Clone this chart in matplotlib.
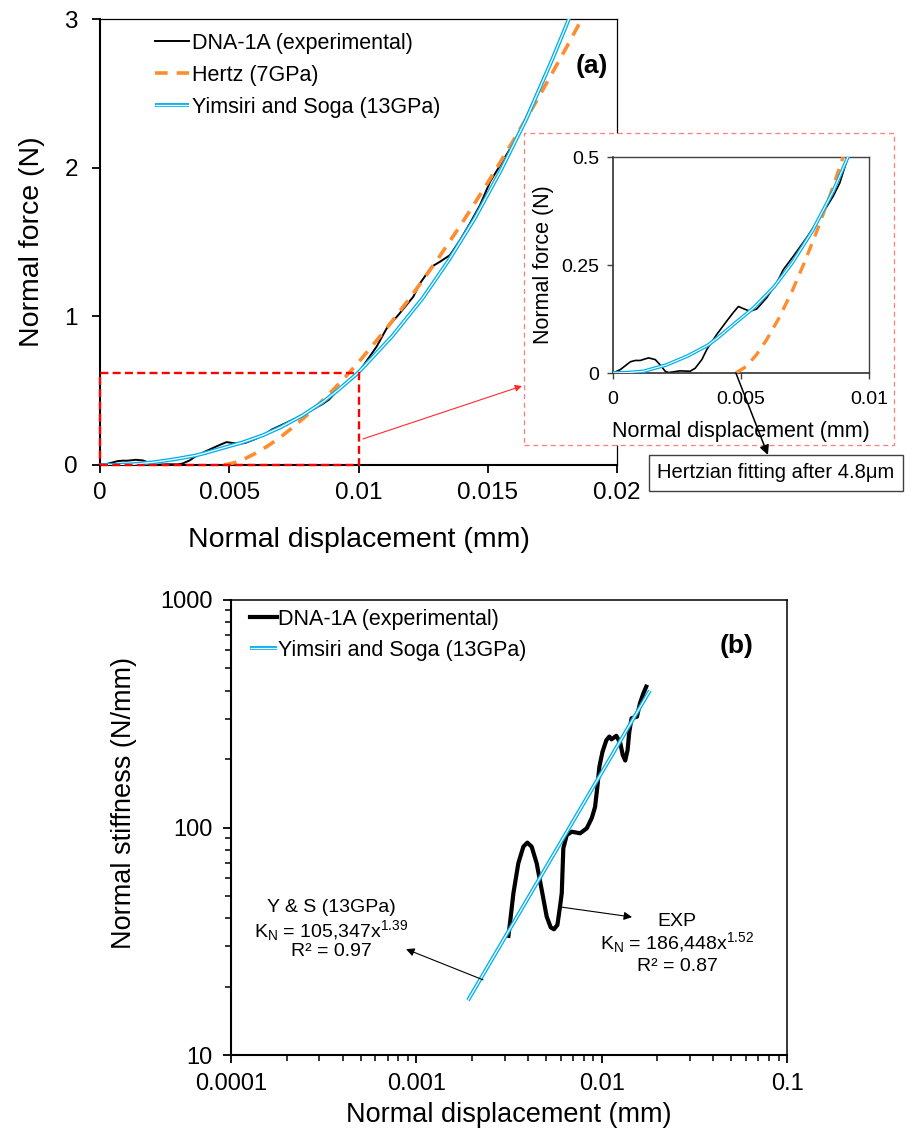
import matplotlib
matplotlib.use("Agg")
import matplotlib.pyplot as plt
import matplotlib.patheffects as pe
from matplotlib.patches import Rectangle
from matplotlib.ticker import FixedLocator, FixedFormatter, LogLocator, NullFormatter

plt.rcParams['font.family'] = ['Liberation Sans', 'DejaVu Sans']
plt.rcParams['mathtext.fontset'] = 'custom'
plt.rcParams['mathtext.rm'] = 'Liberation Sans'
plt.rcParams['mathtext.it'] = 'Liberation Sans:italic'
plt.rcParams['mathtext.bf'] = 'Liberation Sans:bold'

# ---------------- (a) normal force vs displacement ----------------
disp_exp = [0, 0.00029, 0.00068, 0.00087, 0.00106, 0.00139, 0.00165, 0.00184, 0.00204,
            0.00217, 0.00262, 0.00301, 0.00321, 0.00347, 0.00366, 0.00405, 0.00444, 0.0047,
            0.0049, 0.00509, 0.00535, 0.00561, 0.006, 0.00639, 0.00665, 0.00704, 0.00756,
            0.00808, 0.0086, 0.00886, 0.00918, 0.00999, 0.01025, 0.0107, 0.01109, 0.01154,
            0.01212, 0.01238, 0.01283, 0.01315, 0.01354, 0.01393, 0.01431, 0.0147, 0.01509,
            0.0156, 0.01599, 0.01638, 0.01676, 0.01715, 0.01754, 0.01786, 0.01812, 0.0183]
force_exp = [0, 0.008, 0.026, 0.029, 0.029, 0.035, 0.031, 0.019, 0.004,
             0.001, 0.005, 0.004, 0.011, 0.031, 0.054, 0.089, 0.12, 0.14,
             0.154, 0.149, 0.143, 0.148, 0.174, 0.208, 0.239, 0.27, 0.313,
             0.359, 0.409, 0.44, 0.5, 0.617, 0.684, 0.796, 0.919, 1.009,
             1.132, 1.222, 1.334, 1.367, 1.412, 1.513, 1.625, 1.748, 1.905,
             2.051, 2.163, 2.298, 2.443, 2.6, 2.746, 2.88, 2.993, 3.08]

disp_hertz = [0.0048, 0.0052, 0.0056, 0.006, 0.0065, 0.007, 0.0075, 0.008, 0.0085, 0.009,
              0.0095, 0.01, 0.011, 0.012, 0.013, 0.014, 0.015, 0.016, 0.017, 0.018, 0.0187]
force_hertz = [0, 0.015, 0.042, 0.077, 0.129, 0.19, 0.259, 0.334, 0.415, 0.502,
               0.594, 0.691, 0.9, 1.126, 1.368, 1.626, 1.899, 2.185, 2.483, 2.795, 3.02]

disp_ys = [0, 0.0006, 0.0012, 0.0021, 0.0029, 0.0037, 0.0041, 0.0047, 0.0055, 0.0063, 0.007,
           0.0078, 0.0086, 0.0092, 0.01, 0.0113, 0.0125, 0.0135, 0.0145, 0.0155, 0.0165,
           0.0175, 0.018, 0.0185]
force_ys = [0, 0.001, 0.004, 0.019, 0.039, 0.064, 0.082, 0.112, 0.151, 0.2, 0.255,
            0.33, 0.421, 0.503, 0.623, 0.866, 1.126, 1.38, 1.66, 1.98, 2.33,
            2.73, 2.94, 3.16]

a_xticks = [0, 0.005, 0.01, 0.015, 0.02]
a_xticklabels = ['0', '0.005', '0.01', '0.015', '0.02']
a_yticks = [0, 1, 2, 3]
a_yticklabels = ['0', '1', '2', '3']

in_xticks = [0, 0.005, 0.01]
in_xticklabels = ['0', '0.005', '0.01']
in_yticks = [0, 0.25, 0.5]
in_yticklabels = ['0', '0.25', '0.5']

# ---------------- (b) normal stiffness vs displacement ----------------
disp_k_exp = [0.00314, 0.0032, 0.00334, 0.00355, 0.00378, 0.00397, 0.00419, 0.00446,
              0.00475, 0.00505, 0.00531, 0.00553, 0.00577, 0.00596, 0.00609, 0.00621,
              0.00648, 0.0069, 0.00765, 0.00831, 0.00884, 0.00921, 0.00948, 0.00972,
              0.0101, 0.0106, 0.011, 0.0113, 0.012, 0.0126, 0.013, 0.0134, 0.0138,
              0.0141, 0.0145, 0.0155, 0.0161, 0.0168, 0.0174]
stiff_exp = [33.4, 37.9, 51.4, 69.6, 82.4, 85.8, 82.4, 69.6,
             53.1, 40.6, 36.4, 35.7, 37.3, 44.9, 51.4, 81.0,
             92.7, 95.8, 94.3, 99.2, 110, 123, 151, 185,
             215, 242, 251, 244, 253, 235, 208, 197, 219,
             264, 302, 307, 352, 389, 416]

disp_k_ys = [0.0019, 0.0182]
stiff_ys = [17.4, 400]

b_xticks = [1e-4, 1e-3, 1e-2, 1e-1]
b_xticklabels = ['0.0001', '0.001', '0.01', '0.1']
b_yticks = [10, 100, 1000]
b_yticklabels = ['10', '100', '1000']

BLACK = '#000000'
ORANGE = '#FF8C2E'
CYAN = '#00B0F0'
RED = '#FF0000'

W, H = 924, 1134
fig = plt.figure(figsize=(W / 100, H / 100), dpi=100)


def fx(px):
    return px / W


def fy(py):
    return 1 - py / H


def double_line(ax, x, y, lw_outer=2.8, lw_inner=0.9, **kw):
    return ax.plot(x, y, color='white', lw=lw_inner, solid_capstyle='butt',
                   path_effects=[pe.Stroke(linewidth=lw_outer, foreground=CYAN),
                                 pe.Normal()], **kw)[0]


def style_spines(ax, lw_main, lw_other, color='black', color_other='black'):
    for s in ('left', 'bottom'):
        ax.spines[s].set_linewidth(lw_main)
        ax.spines[s].set_color(color)
    for s in ('top', 'right'):
        ax.spines[s].set_linewidth(lw_other)
        ax.spines[s].set_color(color_other)


# ---------- panel (a) ----------
ax_a = fig.add_axes([fx(100), fy(465), (617 - 100) / W, (465 - 19) / H])
l_exp, = ax_a.plot(disp_exp, force_exp, color=BLACK, lw=1.4, zorder=2)
l_hz, = ax_a.plot(disp_hertz, force_hertz, color=ORANGE, lw=2.6,
                  ls=(0, (3.5, 2.5)), zorder=3)
l_ys = double_line(ax_a, disp_ys, force_ys, zorder=4)
ax_a.set_xlim(0, 0.02)
ax_a.set_ylim(0, 3)
ax_a.xaxis.set_major_locator(FixedLocator(a_xticks))
ax_a.xaxis.set_major_formatter(FixedFormatter(a_xticklabels))
ax_a.yaxis.set_major_locator(FixedLocator(a_yticks))
ax_a.yaxis.set_major_formatter(FixedFormatter(a_yticklabels))
ax_a.tick_params(axis='both', direction='out', length=6, width=1.3, labelsize=17.5)
ax_a.tick_params(axis='x', pad=6)
ax_a.tick_params(axis='y', pad=10)
style_spines(ax_a, 1.5, 0.9)
ax_a.set_xlabel('Normal displacement (mm)', fontsize=20.5, labelpad=17)
ax_a.set_ylabel('Normal force (N)', fontsize=20.5, labelpad=14)

ax_a.legend([l_exp, l_hz, l_ys],
            ['DNA-1A (experimental)', 'Hertz (7GPa)', 'Yimsiri and Soga (13GPa)'],
            loc='upper left', bbox_to_anchor=(fx(155), fy(33)),
            bbox_transform=fig.transFigure, frameon=False, fontsize=15.5,
            handlelength=1.6, handletextpad=0.1, labelspacing=0.5,
            borderpad=0, borderaxespad=0)
ax_a.text(0.952, 0.895, '(a)', transform=ax_a.transAxes, fontsize=19,
          fontweight='bold', ha='center', va='center')

# zoomed region marker
ax_a.add_patch(Rectangle((0, 0), 0.01, 0.62, fill=False, ec=RED, lw=1.7,
                         ls=(0, (3.4, 1.8)), zorder=5, clip_on=False))
ax_a.annotate('', xy=(fx(522), fy(386)), xycoords='figure fraction',
              xytext=(0.01017, 0.175), textcoords='data',
              arrowprops=dict(arrowstyle='-|>', color='#FF2A2A', lw=0.8,
                              shrinkA=0, shrinkB=0, mutation_scale=10),
              annotation_clip=False)

# inset frame
fig.add_artist(Rectangle((fx(524), fy(445)), 370 / W, 312 / H,
                         transform=fig.transFigure, fc='white', ec='#FF7C7C',
                         lw=0.9, ls=(0, (4, 3)), zorder=1))

# ---------- inset ----------
ax_in = fig.add_axes([fx(613), fy(373), (869 - 613) / W, (373 - 157) / H])
ax_in.set_zorder(2)
ax_in.plot(disp_exp, force_exp, color=BLACK, lw=1.2, zorder=2)
ax_in.plot(disp_hertz, force_hertz, color=ORANGE, lw=2.4, ls=(0, (3.5, 2.5)), zorder=3)
double_line(ax_in, disp_ys, force_ys, lw_outer=2.6, lw_inner=0.8, zorder=4)
ax_in.set_xlim(0, 0.01)
ax_in.set_ylim(0, 0.5)
ax_in.xaxis.set_major_locator(FixedLocator(in_xticks))
ax_in.xaxis.set_major_formatter(FixedFormatter(in_xticklabels))
ax_in.yaxis.set_major_locator(FixedLocator(in_yticks))
ax_in.yaxis.set_major_formatter(FixedFormatter(in_yticklabels))
ax_in.tick_params(axis='both', direction='out', length=4, width=1.0,
                  labelsize=14, color='#404040')
ax_in.tick_params(axis='x', pad=9)
ax_in.tick_params(axis='y', pad=6)
style_spines(ax_in, 1.2, 1.0, color='#303030', color_other='#404040')
ax_in.set_xlabel('Normal displacement (mm)', fontsize=15.5, labelpad=9)
ax_in.set_ylabel('Normal force (N)', fontsize=15.5, labelpad=5)

ax_in.annotate('Hertzian fitting after 4.8μm', xy=(0.0048, 0), xycoords='data',
               xytext=(fx(776), fy(473)), textcoords='figure fraction',
               ha='center', va='center', fontsize=14.5,
               bbox=dict(boxstyle='square,pad=0.4', fc='white', ec='#404040', lw=1.0),
               arrowprops=dict(arrowstyle='<|-', color='black', lw=1.1,
                               shrinkA=0, shrinkB=0, mutation_scale=14,
                               relpos=(0.48, 1.0)),
               annotation_clip=False, zorder=6)

# ---------- panel (b) ----------
ax_b = fig.add_axes([fx(231), fy(1055), (787 - 231) / W, (1055 - 600) / H])
ax_b.set_xscale('log')
ax_b.set_yscale('log')
k_exp, = ax_b.plot(disp_k_exp, stiff_exp, color=BLACK, lw=3.0,
                   solid_joinstyle='round', zorder=2)
k_ys = double_line(ax_b, disp_k_ys, stiff_ys, lw_outer=2.8, lw_inner=0.9, zorder=3)
ax_b.set_xlim(1e-4, 1e-1)
ax_b.set_ylim(10, 1000)
ax_b.xaxis.set_major_locator(FixedLocator(b_xticks))
ax_b.xaxis.set_major_formatter(FixedFormatter(b_xticklabels))
ax_b.yaxis.set_major_locator(FixedLocator(b_yticks))
ax_b.yaxis.set_major_formatter(FixedFormatter(b_yticklabels))
for axis in (ax_b.xaxis, ax_b.yaxis):
    axis.set_minor_locator(LogLocator(base=10, subs=range(2, 10)))
    axis.set_minor_formatter(NullFormatter())
ax_b.tick_params(which='major', direction='out', length=6, width=1.3, labelsize=17)
ax_b.tick_params(which='minor', direction='out', length=4, width=1.1)
ax_b.tick_params(axis='x', which='major', pad=7)
ax_b.tick_params(axis='y', which='major', pad=7)
style_spines(ax_b, 1.5, 1.1)
ax_b.set_xlabel('Normal displacement (mm)', fontsize=19.5, labelpad=5)
ax_b.set_ylabel('Normal stiffness (N/mm)', fontsize=19.5)
ax_b.yaxis.set_label_coords(-0.169, 0.554)

ax_b.legend([k_exp, k_ys], ['DNA-1A (experimental)', 'Yimsiri and Soga (13GPa)'],
            loc='upper left', bbox_to_anchor=(fx(250), fy(609)),
            bbox_transform=fig.transFigure, frameon=False, fontsize=15.5,
            handlelength=1.25, handletextpad=0.05, labelspacing=0.45,
            borderpad=0, borderaxespad=0)
ax_b.text(0.91, 0.90, '(b)', transform=ax_b.transAxes, fontsize=19,
          fontweight='bold', ha='center', va='center')

# fitted power-law annotations
ann_fs = 14
ax_b.text(0.000346, 44.3, 'Y & S (13GPa)', fontsize=ann_fs, ha='center', va='center')
ax_b.text(0.000346, 35.4, r'K$_\mathregular{N}$ = 105,347x$^\mathregular{1.39}$',
          fontsize=ann_fs, ha='center', va='center')
ax_b.text(0.000346, 28.4, 'R² = 0.97', fontsize=ann_fs, ha='center', va='center')
ax_b.annotate('', xy=(0.00088, 29.2), xytext=(0.00229, 21.4),
              arrowprops=dict(arrowstyle='-|>', color='black', lw=0.8,
                              shrinkA=0, shrinkB=0, mutation_scale=12))

ax_b.text(0.0255, 38.8, 'EXP', fontsize=ann_fs, ha='center', va='center')
ax_b.text(0.0255, 31.1, r'K$_\mathregular{N}$ = 186,448x$^\mathregular{1.52}$',
          fontsize=ann_fs, ha='center', va='center')
ax_b.text(0.0255, 24.6, 'R² = 0.87', fontsize=ann_fs, ha='center', va='center')
ax_b.annotate('', xy=(0.01459, 40.4), xytext=(0.00604, 44.7),
              arrowprops=dict(arrowstyle='-|>', color='black', lw=0.8,
                              shrinkA=0, shrinkB=0, mutation_scale=12))

fig.savefig('out.png', dpi=100, facecolor='white')
